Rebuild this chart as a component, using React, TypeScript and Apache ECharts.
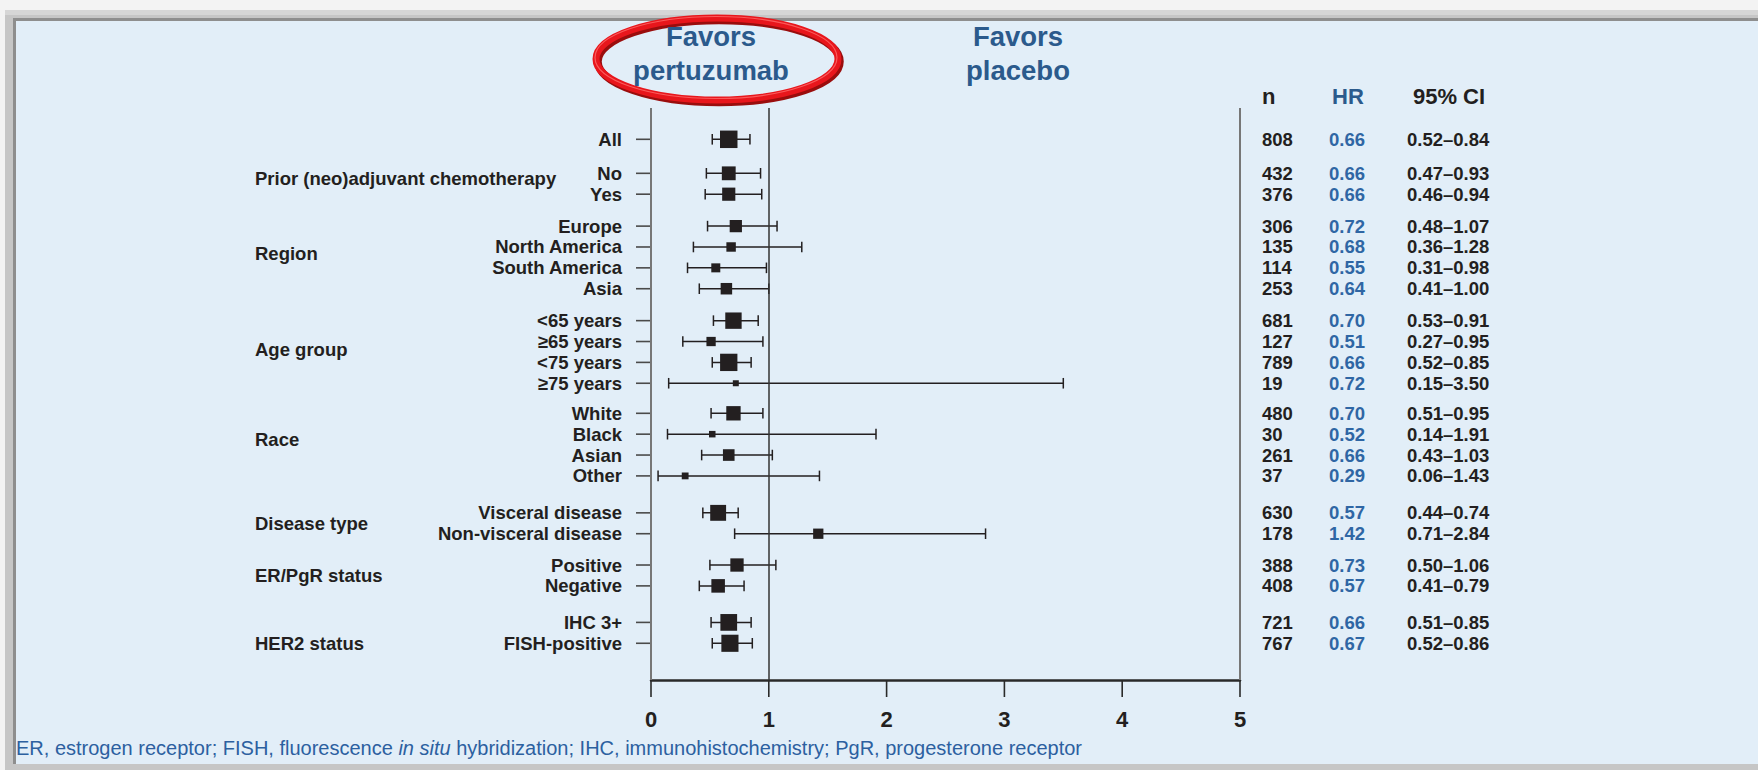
import React, { useEffect, useRef } from "react";
import * as echarts from "echarts";

// ---- data ----
const groups = [
  "",
  "Prior (neo)adjuvant chemotherapy",
  "Region",
  "Age group",
  "Race",
  "Disease type",
  "ER/PgR status",
  "HER2 status",
];
const subgroups = [
  "All",
  "No", "Yes",
  "Europe", "North America", "South America", "Asia",
  "<65 years", "≥65 years", "<75 years", "≥75 years",
  "White", "Black", "Asian", "Other",
  "Visceral disease", "Non-visceral disease",
  "Positive", "Negative",
  "IHC 3+", "FISH-positive",
];
const groupOf = [0, 1, 1, 2, 2, 2, 2, 3, 3, 3, 3, 4, 4, 4, 4, 5, 5, 6, 6, 7, 7];
const patients = [808, 432, 376, 306, 135, 114, 253, 681, 127, 789, 19, 480, 30, 261, 37, 630, 178, 388, 408, 721, 767];
const hazardRatios = [0.66, 0.66, 0.66, 0.72, 0.68, 0.55, 0.64, 0.70, 0.51, 0.66, 0.72, 0.70, 0.52, 0.66, 0.29, 0.57, 1.42, 0.73, 0.57, 0.66, 0.67];
const ciLower = [0.52, 0.47, 0.46, 0.48, 0.36, 0.31, 0.41, 0.53, 0.27, 0.52, 0.15, 0.51, 0.14, 0.43, 0.06, 0.44, 0.71, 0.50, 0.41, 0.51, 0.52];
const ciUpper = [0.84, 0.93, 0.94, 1.07, 1.28, 0.98, 1.00, 0.91, 0.95, 0.85, 3.50, 0.95, 1.91, 1.03, 1.43, 0.74, 2.84, 1.06, 0.79, 0.85, 0.86];
const xTicks = [0, 1, 2, 3, 4, 5];
const xMin = 0;
const xMax = 5;
const xStep = 1;
const footnote =
  "ER, estrogen receptor; FISH, fluorescence {i|in situ} hybridization; IHC, immunohistochemistry; PgR, progesterone receptor";

// ---- layout ----
const W = 1758;
const H = 770;
const GRID = { left: 651, right: W - 1240, top: 108, bottom: H - 680 };
const Y_MIN = -1.5;
const Y_MAX = 25.91;
// extra space (in rows) inserted before each group, and where each group's title sits
const GROUP_GAP = [0, 0.63, 0.53, 0.53, 0.44, 0.77, 0.5, 0.75];
const GROUP_LABEL_OFFSET = [0, 0.25, 1.33, 1.4, 1.25, 0.5, 0.5, 1];
const COL_N = 22; // offsets right of the x = 5 line
const COL_HR = 89;
const COL_CI = 167;
const TICK_LEN = 17;

const FONT = "'Liberation Sans', Arial, Helvetica, sans-serif";
const INK = "#231f20";
const BLUE = "#2f66a4";
const DARK_BLUE = "#2b5a8c";

const rowPos: number[] = [];
{
  let gapSum = 0;
  let last = 0;
  subgroups.forEach((_, i) => {
    const g = groupOf[i];
    if (g !== last) {
      gapSum += GROUP_GAP[g];
      last = g;
    }
    rowPos.push(i + gapSum);
  });
}
const groupLabelPos = groups.map((_, g) => {
  const first = groupOf.indexOf(g);
  return rowPos[first] + GROUP_LABEL_OFFSET[g];
});

function markerSize(n: number) {
  return 3.9 + 0.478 * Math.sqrt(n);
}

export default function App() {
  const ref = useRef<HTMLDivElement>(null);

  useEffect(() => {
    if (!ref.current) return;
    const chart = echarts.init(ref.current, undefined, { renderer: "svg" });

    const rows = subgroups.map((_, i) => [
      hazardRatios[i],
      ciLower[i],
      ciUpper[i],
      rowPos[i],
      patients[i],
      i,
    ]);
    const groupRows = groups
      .map((name, g) => ({ name, g }))
      .filter((d) => d.name !== "")
      .map((d) => [xMin, groupLabelPos[d.g], d.g]);

    const labelFont = `bold 18.5px ${FONT}`;
    const favorFont = `bold 27.5px ${FONT}`;

    const decorations: any[] = [
      // frame
      { type: "rect", z: -10, shape: { x: 5, y: 10, width: W - 5, height: H - 10 }, style: { fill: "#c6c6c6" } },
      { type: "rect", z: -10, shape: { x: 5, y: 10, width: W - 5, height: 5 }, style: { fill: "#d6d6d6" } },
      { type: "rect", z: -9, shape: { x: 13, y: 18, width: W - 13, height: H - 24 }, style: { fill: "#8e8e8e" } },
      { type: "rect", z: -8, shape: { x: 16, y: 21, width: W - 16, height: H - 27 }, style: { fill: "#e2eef8" } },
      // favour labels
      { type: "ellipse", z: 50, shape: { cx: 719, cy: 61.5, rx: 121, ry: 41 }, style: { fill: "none", stroke: "#9a0d0d", lineWidth: 7.5 } },
      { type: "ellipse", z: 51, shape: { cx: 717, cy: 59, rx: 121, ry: 41 }, style: { fill: "none", stroke: "#e8161c", lineWidth: 7 } },
      { type: "ellipse", z: 52, shape: { cx: 716, cy: 57.5, rx: 121, ry: 41 }, style: { fill: "none", stroke: "#ff6a6a", lineWidth: 1.2, opacity: 0.8 } },
      { type: "text", z: 60, x: 711, y: 36, style: { text: "Favors", font: favorFont, fill: DARK_BLUE, align: "center", verticalAlign: "middle" } },
      { type: "text", z: 60, x: 711, y: 70, style: { text: "pertuzumab", font: favorFont, fill: DARK_BLUE, align: "center", verticalAlign: "middle" } },
      { type: "text", z: 60, x: 1018, y: 36, style: { text: "Favors", font: favorFont, fill: DARK_BLUE, align: "center", verticalAlign: "middle" } },
      { type: "text", z: 60, x: 1018, y: 70, style: { text: "placebo", font: favorFont, fill: DARK_BLUE, align: "center", verticalAlign: "middle" } },
      // column headers
      { type: "text", z: 60, x: 1240 + COL_N, y: 96, style: { text: "n", font: `bold 22px ${FONT}`, fill: INK, align: "left", verticalAlign: "middle" } },
      { type: "text", z: 60, x: 1348, y: 96, style: { text: "HR", font: `bold 22px ${FONT}`, fill: DARK_BLUE, align: "center", verticalAlign: "middle" } },
      { type: "text", z: 60, x: 1449, y: 96, style: { text: "95% CI", font: `bold 22px ${FONT}`, fill: INK, align: "center", verticalAlign: "middle" } },
      // footnote
      {
        type: "text",
        z: 60,
        x: 16,
        y: 748,
        style: {
          text: footnote,
          fontSize: 20,
          fontFamily: FONT,
          fill: "#2c60a0",
          verticalAlign: "middle",
          rich: { i: { fontStyle: "italic", fontSize: 20, fontFamily: FONT, fill: "#2c60a0" } },
        },
      },
    ];

    const option: any = {
      animation: false,
      backgroundColor: "#f3f3f3",
      grid: { ...GRID, containLabel: false },
      xAxis: {
        type: "value",
        min: xMin,
        max: xMax,
        interval: xStep,
        splitLine: { show: false },
        axisLine: { show: true, onZero: false, lineStyle: { color: "#2a2a2a", width: 2.5 } },
        axisTick: { show: false },
        axisLabel: {
          fontSize: 22,
          fontWeight: "bold",
          fontFamily: FONT,
          color: INK,
          margin: 28,
        },
      },
      yAxis: {
        type: "value",
        inverse: true,
        min: Y_MIN,
        max: Y_MAX,
        show: false,
      },
      graphic: decorations,
      series: [
        {
          type: "custom",
          name: "subgroups",
          clip: false,
          encode: { x: [0, 1, 2], y: 3 },
          data: rows,
          renderItem: (_params: any, api: any) => {
            const hr = api.value(0);
            const lo = api.value(1);
            const hi = api.value(2);
            const pos = api.value(3);
            const n = api.value(4);
            const idx = api.value(5);
            const [xh, y] = api.coord([hr, pos]);
            const xl = api.coord([lo, pos])[0];
            const xu = api.coord([hi, pos])[0];
            const x0 = api.coord([xMin, pos])[0];
            const x5 = api.coord([xMax, pos])[0];
            const s = markerSize(n);
            const ls = { stroke: INK, lineWidth: 1.5 };
            const cap = 5.3;
            return {
              type: "group",
              children: [
                { type: "line", shape: { x1: x0 - 15, y1: y, x2: x0, y2: y }, style: { stroke: "#4a4a4a", lineWidth: 1.6 } },
                { type: "line", shape: { x1: xl, y1: y, x2: xu, y2: y }, style: ls },
                { type: "line", shape: { x1: xl, y1: y - cap, x2: xl, y2: y + cap }, style: ls },
                { type: "line", shape: { x1: xu, y1: y - cap, x2: xu, y2: y + cap }, style: ls },
                { type: "rect", shape: { x: xh - s / 2, y: y - s / 2, width: s, height: s }, style: { fill: INK } },
                { type: "text", x: x0 - 29, y, style: { text: subgroups[idx], font: labelFont, fill: INK, align: "right", verticalAlign: "middle" } },
                { type: "text", x: x5 + COL_N, y, style: { text: String(n), font: labelFont, fill: INK, align: "left", verticalAlign: "middle" } },
                { type: "text", x: x5 + COL_HR, y, style: { text: hr.toFixed(2), font: labelFont, fill: BLUE, align: "left", verticalAlign: "middle" } },
                { type: "text", x: x5 + COL_CI, y, style: { text: `${lo.toFixed(2)}–${hi.toFixed(2)}`, font: labelFont, fill: INK, align: "left", verticalAlign: "middle" } },
              ],
            };
          },
          markLine: {
            silent: true,
            symbol: "none",
            label: { show: false },
            data: [
              { xAxis: xMin, lineStyle: { color: "#777", width: 2, type: "solid" } },
              { xAxis: 1, lineStyle: { color: "#333", width: 1.5, type: "solid" } },
              { xAxis: xMax, lineStyle: { color: "#777", width: 2, type: "solid" } },
            ],
          },
        },
        {
          type: "custom",
          name: "groups",
          clip: false,
          encode: { x: 0, y: 1 },
          data: groupRows,
          renderItem: (_params: any, api: any) => {
            const [x0, y] = api.coord([api.value(0), api.value(1)]);
            return {
              type: "text",
              x: x0 - 396,
              y,
              style: { text: groups[api.value(2)], font: labelFont, fill: INK, align: "left", verticalAlign: "middle" },
            };
          },
        },
      ],
    };

    chart.setOption(option);

    // tick marks hanging below the x axis, placed through the axis scales
    const yBottom = chart.convertToPixel({ yAxisIndex: 0 }, Y_MAX) as number;
    const ticks = xTicks.map((v) => {
      const x = chart.convertToPixel({ xAxisIndex: 0 }, v) as number;
      return {
        type: "rect",
        z: 70,
        shape: { x: x - 0.8, y: yBottom, width: 1.6, height: TICK_LEN },
        style: { fill: "#2a2a2a" },
      };
    });
    chart.setOption({ graphic: [...decorations, ...ticks] });

    return () => chart.dispose();
  }, []);

  return (
    <div
      ref={ref}
      style={{ position: "absolute", left: 0, top: 0, width: W, height: H }}
    />
  );
}
